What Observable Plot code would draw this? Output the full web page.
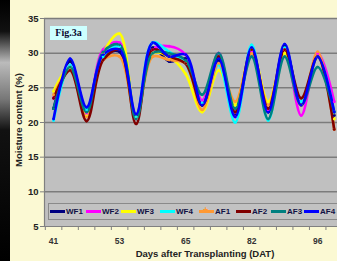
<!DOCTYPE html>
<html><head><meta charset="utf-8">
<script src="https://cdn.jsdelivr.net/npm/d3@7"></script>
<script src="https://cdn.jsdelivr.net/npm/@observablehq/plot@0.6"></script>
<style>
html,body{margin:0;padding:0;}
body{width:337px;height:261px;overflow:hidden;background:#fbf9d3;position:relative;font-family:Arial,"Liberation Sans",sans-serif;}
#strip{position:absolute;left:0;top:0;width:10px;height:261px;background:linear-gradient(to bottom,#000 0%,#111 12%,#bbb 24%,#777 38%,#111 50%,#000 100%);}
#chart{position:absolute;left:0;top:0;}
#fig{position:absolute;left:50px;top:26px;width:37px;height:14px;background:#ccffff;font:bold 10px "Liberation Serif","Times New Roman",serif;color:#0a0a30;line-height:14px;text-align:center;}
#legend{position:absolute;left:48px;top:203px;width:300px;height:15px;border:1px solid #8a8a8a;background:#c2c2c2;}
.item{position:absolute;top:0;height:15px;display:flex;align-items:center;font:bold 8px Arial,"Liberation Sans",sans-serif;color:#111144;}
.sw{width:15px;height:2.6px;margin-right:1px;position:relative;}
.ytitle{position:absolute;left:18px;top:120px;transform:translate(-50%,-50%) rotate(-90deg);white-space:nowrap;font:bold 9.5px Arial,"Liberation Sans",sans-serif;color:#222;}
.xtitle{position:absolute;left:205px;top:253px;transform:translate(-50%,-50%);white-space:nowrap;font:bold 9.5px Arial,"Liberation Sans",sans-serif;color:#222;}
</style></head>
<body>
<div id="chart"></div>
<div id="strip"></div>
<div id="fig">Fig.3a</div>
<div id="legend"></div>
<div class="ytitle">Moisture content (%)</div>
<div class="xtitle">Days after Transplanting (DAT)</div>
<script>
const days = [41,44,47,50,53,56,59,62,65,69,73,78,82,85,89,92,96,99];
const labelIdx = [0,4,8,12,16];
const seriesNames = ["WF1","WF2","WF3","WF4","AF1","AF2","AF3","AF4"];
const seriesColors = ["#000080","#ff00ff","#ffff00","#00ffff","#ff9933","#800000","#008080","#0000ff"];
const WF1 = [22,28.8,21.8,29.5,30.2,21,30.8,28.8,29.2,22.5,29,21,30.5,21.5,31,22.5,29.5,21];
const WF2 = [23.5,28.2,21.2,30.5,31.5,20.5,30.5,31,29.8,23.2,30,20.8,30.2,21.8,30.5,21,30,23];
const WF3 = [24.5,28,21,30,32.8,20.8,30,29.5,27,21.5,27.5,22.5,30.5,23,30,22.5,29.5,20.5];
const WF4 = [20.3,28.3,21.8,29.5,31,20.8,31.5,30.2,28.5,22.8,28.3,20,31.2,20.3,30.8,23,29.5,21.5];
const AF1 = [24,27.5,20.8,29,29.5,20.5,29.5,29,28.5,21.8,28.5,23,30,22.5,30.5,22.5,30.2,19];
const AF2 = [23.5,27.5,20.2,29,30.5,19.8,30.5,29.5,28.5,22.5,29.5,21.5,30.5,22,30.5,23.5,29.5,19];
const AF3 = [22,28,21.5,30.2,31.2,20.5,30,30,29,24,30,22,29.5,20.5,29.5,22.5,28,21.5];
const AF4 = [20.5,29.2,22.2,29.8,30.5,21.2,31.5,29.5,29.8,22.5,29.2,20.8,30.8,21.5,31.3,22.5,29.5,21.5];
const yTicks = [5,10,15,20,25,30,35];

const seriesValues = [WF1,WF2,WF3,WF4,AF1,AF2,AF3,AF4];
const data = [];
seriesNames.forEach((s,k)=>seriesValues[k].forEach((v,i)=>data.push({series:s,i,day:days[i],value:v})));
const between = d3.range(-0.5, 17.5, 1);

const chart = Plot.plot({
  width:337, height:261,
  marginLeft:44, marginRight:0, marginTop:18, marginBottom:35,
  style:{background:"transparent",fontFamily:"Arial, 'Liberation Sans', sans-serif"},
  x:{domain:[-0.55,17.2]},
  y:{domain:[5,35]},
  color:{domain:seriesNames, range:seriesColors},
  marks:[
    Plot.frame({fill:"#c0c0c0", stroke:null}),
    Plot.gridY(yTicks.filter(t=>t>5), {stroke:"#7c7c7c", strokeOpacity:1, strokeWidth:1.5}),
    Plot.lineY(data, {x:"i", y:"value", z:"series", stroke:"series", curve:"catmull-rom", strokeWidth:2.6, clip:true}),
    Plot.dot(data, {x:"i", y:"value", fill:"series", r:1.4, clip:true}),
    Plot.ruleY([5], {stroke:"#808080", strokeWidth:1.2}),
    Plot.ruleX([-0.55], {stroke:"#808080", strokeWidth:1.2}),
    Plot.axisY(yTicks, {tickSize:4, tickPadding:2, fontSize:9.5, fontWeight:"bold", fill:"#222", stroke:"#808080", label:null}),
    Plot.axisX(between, {tickSize:4, tickFormat:()=>"", stroke:"#808080", label:null}),
    Plot.axisX(labelIdx, {tickSize:0, tickPadding:11, tickFormat:i=>days[i], fontSize:8.5, fontWeight:"bold", fill:"#333", label:null})
  ]
});
document.getElementById("chart").appendChild(chart);

const legendLeft = [1,37,72,111,150,187,222,255];
const leg = document.getElementById("legend");
seriesNames.forEach((s,k)=>{
  const it = document.createElement("div");
  it.className="item"; it.style.left = legendLeft[k]+"px";
  const sw = document.createElement("div"); sw.className="sw"; sw.style.background = seriesColors[k];
  if (s==="AF1") { sw.innerHTML = '<span style="position:absolute;left:4px;top:-5px;font:bold 9px Arial;color:#ff9933">+</span>'; }
  const t = document.createElement("span"); t.textContent = s;
  it.appendChild(sw); it.appendChild(t); leg.appendChild(it);
});
</script>
</body></html>
